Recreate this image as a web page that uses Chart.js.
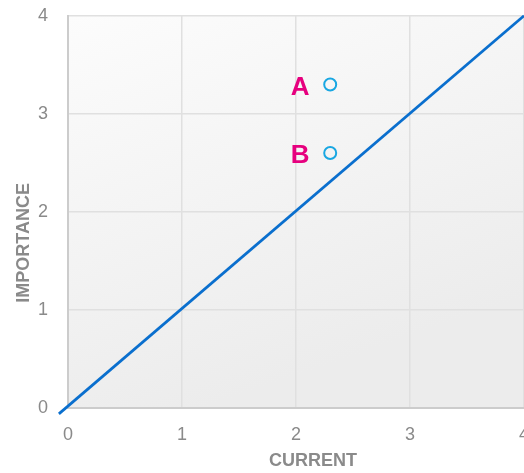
<!DOCTYPE html>
<html lang="en">
<head>
    <meta charset="UTF-8">
    <title>Importance vs Current</title>
    <script src="https://cdn.jsdelivr.net/npm/chart.js"></script>
    <style>
        html, body {
            margin: 0;
            padding: 0;
            background: #ffffff;
            overflow: hidden;
        }
        #wrap {
            width: 560px;
            height: 488px;
            margin-top: -15px;
        }
    </style>
</head>
<body>
    <div id="wrap"><canvas id="chart"></canvas></div>
    <script>
        // data
        const pointLabels = ['A', 'B'];
        const currentValues = [2.3, 2.3];
        const importanceValues = [3.3, 2.6];
        const diagonalX = [-0.08, 4];
        const diagonalY = [-0.06, 4];
        const axisTicks = [0, 1, 2, 3, 4];

        const gray = '#8a8a8a';
        const tickFont = { family: "'Liberation Sans', Arial, sans-serif", size: 18 };

        // gradient background of the plot area
        const plotBackground = {
            id: 'plotBackground',
            beforeDraw(chart) {
                const { ctx, chartArea: a } = chart;
                const g = ctx.createLinearGradient(a.left, a.top, a.left + a.width * 0.3, a.bottom);
                g.addColorStop(0, '#fcfcfc');
                g.addColorStop(1, '#ececec');
                ctx.save();
                ctx.fillStyle = g;
                ctx.fillRect(a.left, a.top, a.width, a.height);
                ctx.restore();
            }
        };

        // A / B labels left of each point, plus the axis titles (sit off-centre in the original)
        const textLayer = {
            id: 'textLayer',
            afterDatasetsDraw(chart) {
                const { ctx, chartArea: a, scales: { x, y } } = chart;
                ctx.save();
                ctx.textAlign = 'center';
                ctx.textBaseline = 'middle';
                ctx.font = "bold 26px 'Liberation Sans', Arial, sans-serif";
                ctx.fillStyle = '#e6007e';
                pointLabels.forEach((t, i) => {
                    ctx.fillText(t, x.getPixelForValue(currentValues[i]) - 30,
                        y.getPixelForValue(importanceValues[i]) + 3);
                });

                ctx.font = "bold 18px 'Liberation Sans', Arial, sans-serif";
                ctx.fillStyle = gray;
                ctx.fillText('CURRENT', (a.left + a.right) / 2 + 17, chart.height - 12);
                ctx.translate(24, (a.top + a.bottom) / 2 + 31);
                ctx.rotate(-Math.PI / 2);
                ctx.fillText('IMPORTANCE', 0, 0);
                ctx.restore();
            }
        };

        new Chart(document.getElementById('chart'), {
            type: 'scatter',
            data: {
                datasets: [
                    {
                        label: 'points',
                        data: currentValues.map((v, i) => ({ x: v, y: importanceValues[i] })),
                        pointRadius: 6,
                        pointBorderWidth: 2,
                        pointBorderColor: '#19a7e2',
                        pointBackgroundColor: 'rgba(255,255,255,0)',
                        order: 1
                    },
                    {
                        label: 'diagonal',
                        type: 'line',
                        data: diagonalX.map((v, i) => ({ x: v, y: diagonalY[i] })),
                        borderColor: '#0a6fce',
                        borderWidth: 2.75,
                        pointRadius: 0,
                        clip: false,
                        order: 2
                    }
                ]
            },
            options: {
                responsive: true,
                maintainAspectRatio: false,
                animation: false,
                layout: { padding: { top: 0, right: 36, bottom: 0, left: 0 } },
                plugins: {
                    legend: { display: false },
                    tooltip: { enabled: false }
                },
                scales: {
                    x: {
                        type: 'linear',
                        min: 0,
                        max: 4,
                        afterBuildTicks: s => { s.ticks = axisTicks.map(v => ({ value: v })); },
                        afterFit: s => { s.height = 65; },
                        grid: { color: '#e0e0e0', lineWidth: 1.5, drawTicks: false },
                        border: { color: '#cccccc', width: 2 },
                        ticks: { color: gray, font: tickFont, padding: 16 }
                    },
                    y: {
                        type: 'linear',
                        min: 0,
                        max: 4,
                        afterBuildTicks: s => { s.ticks = axisTicks.map(v => ({ value: v })); },
                        afterFit: s => { s.width = 68; },
                        grid: { color: '#e0e0e0', lineWidth: 1.5, drawTicks: false },
                        border: { color: '#cccccc', width: 2 },
                        ticks: { color: gray, font: tickFont, padding: 20 }
                    }
                }
            },
            plugins: [plotBackground, textLayer]
        });
    </script>
</body>
</html>
